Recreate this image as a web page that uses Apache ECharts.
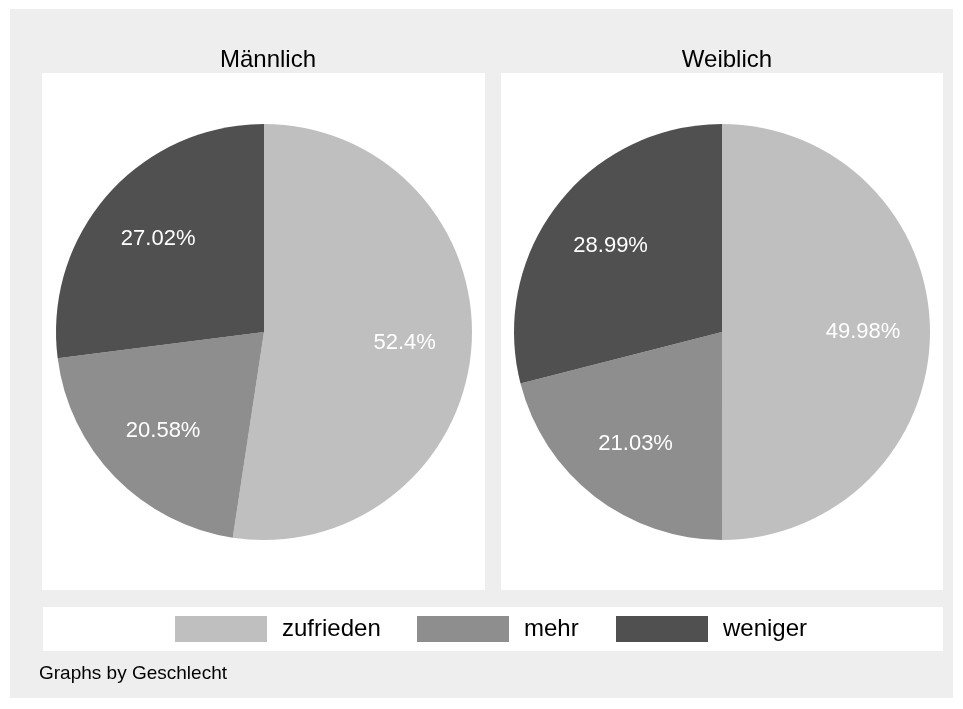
<!DOCTYPE html>
<html>
<head>
<meta charset="utf-8">
<script src="https://cdn.jsdelivr.net/npm/echarts@6/dist/echarts.min.js"></script>
<style>
html, body { margin: 0; padding: 0; background: #fff; }
#pie { width: 963px; height: 709px; }
</style>
</head>
<body>
<div id="pie"></div>
<script>
// data
var categories = ['zufrieden', 'mehr', 'weniger'];
var maennlich = [52.4, 20.58, 27.02];
var weiblich = [49.98, 21.03, 28.99];
var panelTitles = ['Männlich', 'Weiblich'];
var colors = ['#bfbfbf', '#8e8e8e', '#505050'];

var font = '"Liberation Sans", Arial, Helvetica, sans-serif';
var myChart = echarts.init(document.getElementById('pie'));

function toData(vals) {
    return categories.map(function (c, i) { return { name: c, value: vals[i] }; });
}

function pieSeries(vals, cx) {
    // the filled pie
    var main = {
        type: 'pie',
        center: [cx, 332],
        radius: [0, 208],
        startAngle: 90,
        clockwise: true,
        silent: true,
        label: { show: false },
        labelLine: { show: false },
        data: toData(vals)
    };
    // transparent twin, only used to place the labels further out
    var labels = {
        type: 'pie',
        center: [cx, 332],
        radius: [0, 276],
        startAngle: 90,
        clockwise: true,
        silent: true,
        itemStyle: { color: 'rgba(0,0,0,0)' },
        label: {
            show: true,
            position: 'inside',
            color: '#fff',
            fontSize: 22,
            fontFamily: font,
            formatter: function (p) { return p.value + '%'; }
        },
        labelLine: { show: false },
        data: toData(vals)
    };
    return [main, labels];
}

var legendLefts = [175, 417, 616];
var legends = categories.map(function (c, i) {
    return {
        data: [c],
        left: legendLefts[i],
        top: 616,
        padding: 0,
        icon: 'rect',
        itemWidth: 92,
        itemHeight: 26,
        selectedMode: false,
        textStyle: { color: '#000', fontSize: 24, fontFamily: font, padding: [0, 0, 0, 10] }
    };
});

var option = {
    animation: false,
    color: colors,
    title: [
        { text: panelTitles[0], left: 263, top: 43, textAlign: 'center',
          textStyle: { color: '#000', fontSize: 24, fontWeight: 'normal', fontFamily: font } },
        { text: panelTitles[1], left: 722, top: 43, textAlign: 'center',
          textStyle: { color: '#000', fontSize: 24, fontWeight: 'normal', fontFamily: font } },
        { text: 'Graphs by Geschlecht', left: 39, top: 664, padding: 0,
          textStyle: { color: '#000', fontSize: 19, fontWeight: 'normal', fontFamily: font } }
    ],
    legend: legends,
    graphic: [
        { type: 'rect', z: -10, shape: { x: 10, y: 9, width: 943, height: 689 }, style: { fill: '#eeeeee' } },
        { type: 'rect', z: -9, shape: { x: 42, y: 73, width: 443, height: 517 }, style: { fill: '#fff' } },
        { type: 'rect', z: -9, shape: { x: 501, y: 73, width: 442, height: 517 }, style: { fill: '#fff' } },
        { type: 'rect', z: -9, shape: { x: 43, y: 607, width: 900, height: 44 }, style: { fill: '#fff' } }
    ],
    series: pieSeries(maennlich, 264).concat(pieSeries(weiblich, 722))
};

myChart.setOption(option);
</script>
</body>
</html>
